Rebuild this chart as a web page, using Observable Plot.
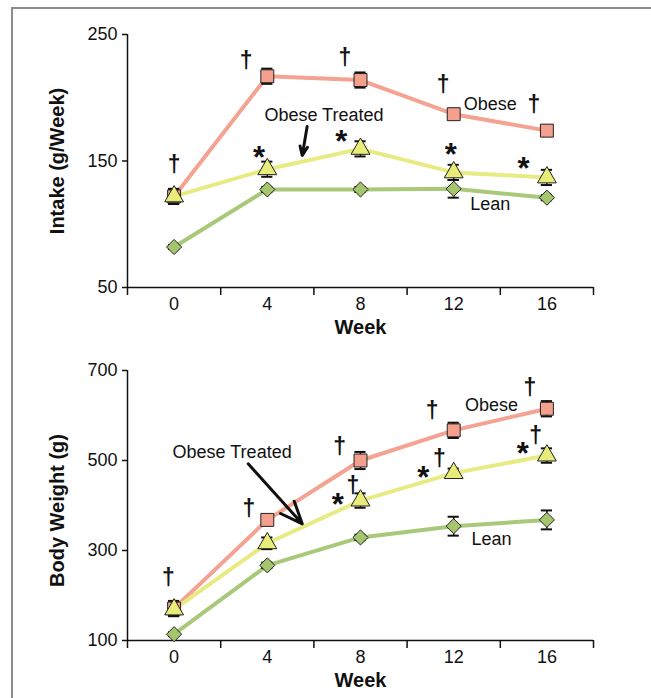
<!DOCTYPE html>
<html>
<head>
<meta charset="utf-8">
<script src="https://cdn.jsdelivr.net/npm/d3@7"></script>
<script src="https://cdn.jsdelivr.net/npm/@observablehq/plot@0.6"></script>
<style>
  html, body { margin: 0; padding: 0; background: #fff; }
  #wrap { position: relative; width: 651px; height: 698px; overflow: hidden; font-family: "Liberation Sans", Arial, Helvetica, sans-serif; }
  #frame { position: absolute; left: 11px; top: 7px; width: 700px; height: 760px; border-left: 2px solid #8c8c8c; border-top: 2px solid #8c8c8c; }
  #top { position: absolute; left: 0; top: 0; }
  #bottom { position: absolute; left: 0; top: 345px; }
</style>
</head>
<body>
<div id="wrap"><div id="frame"></div><div id="top"></div><div id="bottom"></div></div>
<script>
// ---- data ----
const weeks = [0, 4, 8, 12, 16];
const weekTickLabels = [0, 4, 8, 12, 16];
const weekBoundaries = [-2, 2, 6, 10, 14, 18];

// Intake (g/week)
const intakeObese = [122, 217, 214, 187, 174];
const intakeObeseSE = [6, 6, 6, 2, 2];
const intakeTreated = [122, 143.5, 159.6, 141, 137];
const intakeTreatedSE = [5.5, 6, 6, 6, 6];
const intakeLean = [82, 127.5, 127.5, 128, 121];
const intakeLeanSE = [1.5, 2, 2, 7, 2];
const intakeTicks = [50, 150, 250];

// Body weight (g)
const weightObese = [171, 368, 500, 567, 615];
const weightObeseSE = [17, 4, 19, 17, 17];
const weightTreated = [169, 316, 411, 472, 511];
const weightTreatedSE = [14, 13, 16, 10, 16];
const weightLean = [114, 267, 329, 354, 368];
const weightLeanSE = [4, 6, 6, 21, 21];
const weightTicks = [100, 300, 500, 700];

// annotations (week, value)
const intakeDaggers = [[0, 147], [3.09, 229.4], [7.33, 232], [11.55, 210.5], [15.44, 194.7]];
const intakeStars = [[3.64, 158.8], [7.17, 171.5], [11.87, 160.7], [15.0, 149.6]];
const intakeLabels = [["Obese", 13.57, 194.7], ["Obese Treated", 6.43, 186], ["Lean", 13.57, 115.6]];
const intakeArrow = [[5.71, 177.3, 5.5, 154.3]];

const weightDaggers = [[-0.25, 240.7], [3.21, 392.6], [7.11, 531], [7.67, 444.4], [11.08, 611], [11.39, 505], [15.27, 663], [15.52, 555.6]];
const weightStars = [[7.03, 418.4], [10.69, 479], [14.97, 531]];
const weightLabels = [["Obese", 13.62, 622], ["Obese Treated", 2.49, 518], ["Lean", 13.62, 324.4]];
const weightArrow = [[3.18, 492.6, 5.5, 359.3]];

// ---- styles ----
const FONT = '"Liberation Sans", Arial, Helvetica, sans-serif';
const C = {
  obese: {line: "#F4A292", fill: "#F4A08E"},
  treated: {line: "#E7EB82", fill: "#E8EC78"},
  lean: {line: "#A9C97A", fill: "#A6C56F"}
};

function series(vals, se) {
  return weeks.map((w, i) => ({week: w, value: vals[i], se: se[i]}));
}

function panel({height, marginTop, domain, ticks, ylabel, ylabelDy, obese, treated, lean, daggers, stars, labels, arrow}) {
  const all = [obese, treated, lean];
  const errMarks = all.flatMap(s => [
    Plot.ruleX(s, {x: "week", y1: d => d.value - d.se, y2: d => d.value + d.se, stroke: "#111", strokeWidth: 1.5}),
    Plot.ruleY(s, {x1: d => d.week - 0.24, x2: d => d.week + 0.24, y: d => d.value + d.se, stroke: "#111", strokeWidth: 2}),
    Plot.ruleY(s, {x1: d => d.week - 0.24, x2: d => d.week + 0.24, y: d => d.value - d.se, stroke: "#111", strokeWidth: 2})
  ]);
  return Plot.plot({
    width: 651,
    height,
    marginLeft: 127,
    marginRight: 58,
    marginTop,
    marginBottom: 58,
    style: {fontFamily: FONT, fontSize: "18px", color: "#111", background: "transparent", overflow: "visible"},
    x: {domain: [-2, 18], axis: null},
    y: {domain, axis: null},
    marks: [
      // axes
      Plot.ruleX([-2], {y1: domain[0], y2: domain[1], stroke: "#111", strokeWidth: 1.5}),
      Plot.ruleY([domain[0]], {x1: -2, x2: 18, stroke: "#111", strokeWidth: 1.5}),
      Plot.axisY({ticks, tickSize: 5, tickPadding: 5, fontSize: 18, label: null, strokeWidth: 1.5}),
      Plot.axisX({ticks: weekBoundaries, tickSize: 8, tickFormat: () => "", label: null, strokeWidth: 1.5}),
      Plot.axisX({ticks: weekTickLabels, tickSize: 0, tickPadding: 10, fontSize: 18, label: null}),
      Plot.text(["Week"], {frameAnchor: "bottom", lineAnchor: "middle", textAnchor: "middle", dy: 40, fontSize: 20, fontWeight: "bold"}),
      Plot.text([ylabel], {frameAnchor: "left", textAnchor: "middle", lineAnchor: "middle", dx: -70, dy: ylabelDy, rotate: -90, fontSize: 20, fontWeight: "bold"}),
      // lines
      Plot.line(obese, {x: "week", y: "value", stroke: C.obese.line, strokeWidth: 4}),
      Plot.line(treated, {x: "week", y: "value", stroke: C.treated.line, strokeWidth: 4}),
      Plot.line(lean, {x: "week", y: "value", stroke: C.lean.line, strokeWidth: 4}),
      ...errMarks,
      // markers
      Plot.dot(obese, {x: "week", y: "value", symbol: "square", r: 7.3, fill: C.obese.fill, stroke: "#222", strokeWidth: 1}),
      Plot.dot(treated, {x: "week", y: "value", symbol: "triangle", r: 7, fill: C.treated.fill, stroke: "#222", strokeWidth: 1}),
      Plot.dot(lean, {x: "week", y: "value", symbol: "diamond2", r: 6.8, fill: C.lean.fill, stroke: "#222", strokeWidth: 1}),
      // annotations
      Plot.text(daggers, {x: d => d[0], y: d => d[1], text: () => "†", fontSize: 23, fontWeight: "bold", fill: "#111"}),
      Plot.text(stars, {x: d => d[0], y: d => d[1], text: () => "*", fontSize: 31, fontWeight: "bold", dy: 8, fill: "#111"}),
      Plot.text(labels, {x: d => d[1], y: d => d[2], text: d => d[0], fontSize: 18, fill: "#111"}),
      Plot.arrow(arrow, {x1: d => d[0], y1: d => d[1], x2: d => d[2], y2: d => d[3], stroke: "#111", strokeWidth: 3, headLength: 12, headAngle: 45})
    ]
  });
}

document.getElementById("top").append(panel({
  height: 345, marginTop: 34, domain: [50, 250], ticks: intakeTicks,
  ylabel: "Intake (g/Week)", ylabelDy: 0,
  obese: series(intakeObese, intakeObeseSE),
  treated: series(intakeTreated, intakeTreatedSE),
  lean: series(intakeLean, intakeLeanSE),
  daggers: intakeDaggers, stars: intakeStars, labels: intakeLabels, arrow: intakeArrow
}));

document.getElementById("bottom").append(panel({
  height: 353, marginTop: 25, domain: [100, 700], ticks: weightTicks,
  ylabel: "Body Weight (g)", ylabelDy: 5,
  obese: series(weightObese, weightObeseSE),
  treated: series(weightTreated, weightTreatedSE),
  lean: series(weightLean, weightLeanSE),
  daggers: weightDaggers, stars: weightStars, labels: weightLabels, arrow: weightArrow
}));
</script>
</body>
</html>
